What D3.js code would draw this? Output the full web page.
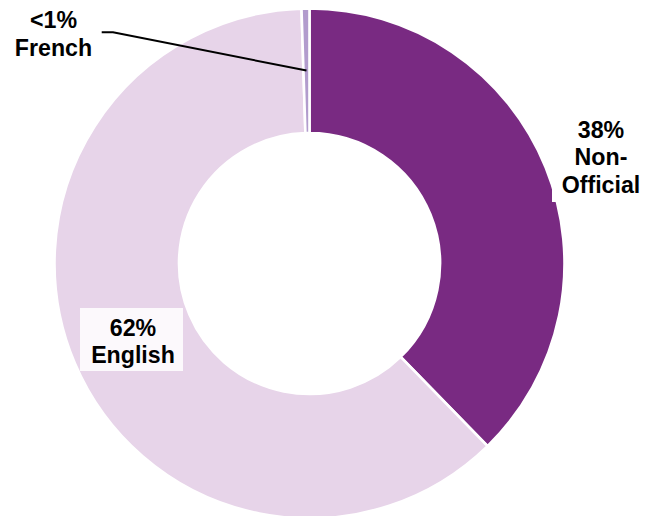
<!DOCTYPE html>
<html>
<head>
<meta charset="utf-8">
<script src="https://cdn.jsdelivr.net/npm/d3@7"></script>
<style>
  html, body { margin: 0; padding: 0; background: #fff; }
  text { font-family: "Liberation Sans", Arial, sans-serif; font-weight: bold; fill: #000; }
</style>
</head>
<body>
<div id="chart"></div>
<script>
// chart data
var categories = ["Non-Official", "English", "French"];
var values = [37.7, 61.8, 0.5];
var pctLabels = ["38%", "62%", "<1%"];
var labelLines = [["38%", "Non-", "Official"], ["62%", "English"], ["<1%", "French"]];
var colors = ["#792a82", "#e7d4e9", "#b29ccd"];

function init() {
    var w = 660;
    var h = 516;
    var cx = 309.5, cy = 263.5;
    var outerR = 255, innerR = 130.5;

    var svg = d3.select("#chart")
                .append("svg")
                .attr("width", w)
                .attr("height", h);

    var color = d3.scaleOrdinal()
                  .domain(categories)
                  .range(colors);

    var pie = d3.pie()
                .sort(null)
                .value(function(d, i) { return values[i]; });

    var arc = d3.arc()
                .innerRadius(innerR)
                .outerRadius(outerR);

    var arcs = pie(categories);

    var g = svg.append("g")
               .attr("transform", "translate(" + cx + "," + cy + ")");

    g.selectAll("path")
     .data(arcs)
     .enter()
     .append("path")
       .attr("d", arc)
       .attr("fill", function(d) { return color(d.data); })
       .attr("stroke", "#fff")
       .attr("stroke-width", 2.6);

    // label layout (boxes + text centers), manually placed like the original
    var layout = {
        "Non-Official": { x: 601, y0: 137.7, box: [552, 110, 100, 92], fill: "#fff" },
        "English":      { x: 133, y0: 335.7, box: [80, 308, 103, 63], fill: "#fcf9fc" },
        "French":       { x: 53.5, y0: 28.3, box: null }
    };
    var lineH = 27.4;

    // leader line for the tiny French slice
    var french = arcs[2];
    var leadArc = d3.arc().innerRadius(193).outerRadius(193);
    var endPt = leadArc.centroid(french);
    svg.append("path")
       .attr("d", d3.line()([[101.7, 32.3], [113, 32.3], [cx + endPt[0], cy + endPt[1]]]))
       .attr("fill", "none")
       .attr("stroke", "#000")
       .attr("stroke-width", 2);

    categories.forEach(function(c, i) {
        var L = layout[c];
        if (L.box) {
            svg.append("rect")
               .attr("x", L.box[0]).attr("y", L.box[1])
               .attr("width", L.box[2]).attr("height", L.box[3])
               .attr("fill", L.fill);
        }
        svg.append("text")
           .attr("text-anchor", "middle")
           .style("font-size", "23.2px")
           .selectAll("tspan")
           .data(labelLines[i])
           .enter()
           .append("tspan")
             .attr("x", L.x)
             .attr("y", function(d, j) { return L.y0 + j * lineH; })
             .text(function(d) { return d; });
    });
}
window.onload = init;
</script>
</body>
</html>
